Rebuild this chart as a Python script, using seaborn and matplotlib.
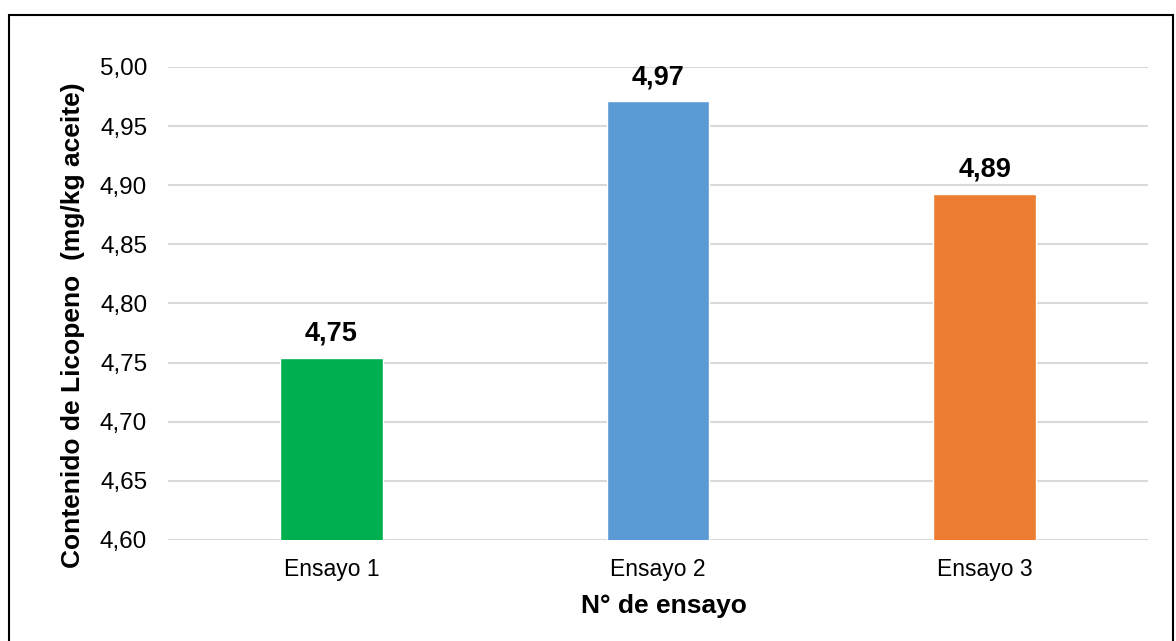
import matplotlib
matplotlib.use("Agg")
import matplotlib.pyplot as plt
import seaborn as sns
import pandas as pd
from matplotlib.patches import Rectangle

# Data
ensayos = ["Ensayo 1", "Ensayo 2", "Ensayo 3"]
licopeno = [4.754, 4.971, 4.893]
colores = ["#00B050", "#5B9BD5", "#ED7D31"]
yticks = [4.60, 4.65, 4.70, 4.75, 4.80, 4.85, 4.90, 4.95, 5.00]

sns.set_theme(style="white")
plt.rcParams["font.family"] = ["Liberation Sans", "DejaVu Sans"]

df = pd.DataFrame({"ensayo": ensayos, "valor": licopeno})

fig = plt.figure(figsize=(11.76, 6.41), dpi=100)
ax = fig.add_axes([0.1429, 0.1576, 0.8333, 0.7379])

sns.barplot(data=df, x="ensayo", y="valor", hue="ensayo", palette=colores,
            width=0.315, legend=False, ax=ax, zorder=3, saturation=1)

ax.set_ylim(4.60, 5.00)
ax.set_yticks(yticks)
ax.set_yticklabels([f"{v:.2f}".replace(".", ",") for v in yticks], fontsize=17.5, color="#000000")
ax.tick_params(axis="x", labelsize=16.5, colors="#000000", pad=13, length=0)
ax.tick_params(axis="y", pad=15, length=0)
ax.grid(axis="y", color="#D9D9D9", linewidth=1.5, zorder=0)
ax.set_axisbelow(True)
for s in ax.spines.values():
    s.set_visible(False)

for i, v in enumerate(licopeno):
    ax.text(i, v + 0.0095, f"{v:.2f}".replace(".", ","), ha="center", va="bottom",
            fontsize=19.5, fontweight="bold", color="#000000")

ax.set_xlabel("N° de ensayo", fontsize=19, fontweight="bold", color="#000000")
ax.xaxis.set_label_coords(0.506, -0.114)
ax.set_ylabel("Contenido de Licopeno  (mg/kg aceite)", fontsize=19, fontweight="bold",
              color="#000000")
ax.yaxis.set_label_coords(-0.085, 0.4545)

# outer frame
fig.patches.append(Rectangle((9 / 1176, -0.05), (1173 - 9) / 1176, 1.05 - 15 / 641,
                             transform=fig.transFigure, fill=False,
                             edgecolor="#000000", linewidth=1.5))

fig.savefig("out.png", dpi=100)
